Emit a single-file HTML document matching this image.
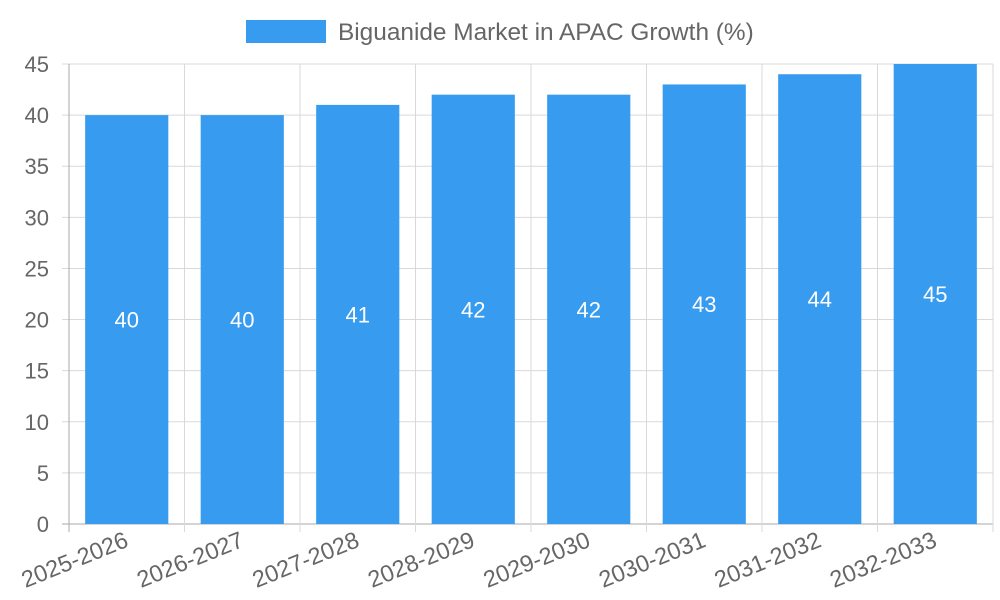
<!DOCTYPE html>
<html><head><meta charset="utf-8"><style>
html,body{margin:0;padding:0;background:#fff;}
svg{display:block;font-family:"Liberation Sans",sans-serif;}
</style></head><body>
<svg id="chart" width="1000" height="600" viewBox="0 0 1000 600">
<g>
<rect x="246" y="20" width="80" height="23" fill="#379BEF"></rect>
<text x="338" y="40" font-size="24.4" fill="#666">Biguanide Market in APAC Growth (%)</text>
</g>
<g id="grid"></g><g id="bars"></g><g id="axes"></g>
</svg>
<script>
const categories=["2025-2026","2026-2027","2027-2028","2028-2029","2029-2030","2030-2031","2031-2032","2032-2033"];
const values=[40,40,41,42,42,43,44,45];
const yTicks=[0,5,10,15,20,25,30,35,40,45];
const NS="http://www.w3.org/2000/svg";
const L=69,R=993,T=64,B=524,yMax=45;
const bw=(R-L)/categories.length;
const y=v=>B-(v/yMax)*(B-T);
const x=i=>L+i*bw;
function mk(tag,attrs,parent,txt){const e=document.createElementNS(NS,tag);for(const k in attrs)e.setAttribute(k,attrs[k]);if(txt!==undefined)e.textContent=txt;document.getElementById(parent).appendChild(e);return e;}
yTicks.forEach(t=>{
const g=mk('line',{x1:L-7,x2:R,y1:y(t),y2:y(t),stroke:t===0?'#aaa':'#d9d9d9','stroke-width':1},'grid');


const l=mk('text',{x:L-20,y:y(t)+8,'text-anchor':'end','font-size':22,fill:'#666'},'axes',t);


});
for(let i=0;i<=categories.length;i++){
const g=mk('line',{x1:x(i),x2:x(i),y1:T,y2:B+8,stroke:i===0?'#aaa':'#d9d9d9','stroke-width':1},'grid');


}
categories.forEach((c,i)=>{
const cx=x(i)+bw/2,w=bw*0.72;
const r=mk('rect',{x:cx-w/2,y:y(values[i]),width:w,height:B-y(values[i]),fill:'#379BEF'},'bars');


const v=mk('text',{x:cx,y:(y(values[i])+B)/2+8,'text-anchor':'middle','font-size':22,fill:'#fff'},'bars',values[i]);


const l=mk('text',{x:cx+3,y:B+22,'text-anchor':'end','font-size':23.5,fill:'#666',transform:`rotate(-22 ${cx+3} ${B+22})`},'axes',c);


});
</script>
</body></html>
